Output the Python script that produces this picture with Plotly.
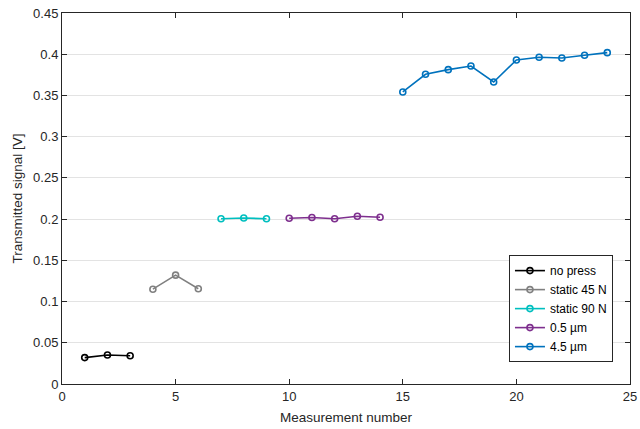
import plotly.graph_objects as go

series_names = ["no press", "static 45 N", "static 90 N", "0.5 µm", "4.5 µm"]
series_x = [
    [1, 2, 3],
    [4, 5, 6],
    [7, 8, 9],
    [10, 11, 12, 13, 14],
    [15, 16, 17, 18, 19, 20, 21, 22, 23, 24],
]
series_y = [
    [0.032, 0.0352, 0.0343],
    [0.115, 0.132, 0.1156],
    [0.2005, 0.2013, 0.2005],
    [0.201, 0.202, 0.2005, 0.2034, 0.2022],
    [0.3542, 0.3757, 0.3813, 0.3857, 0.3663, 0.393, 0.3963, 0.3954, 0.3987, 0.4019],
]
series_colors = ["#000000", "#808080", "#00BFBF", "#7E2F8E", "#0072BD"]

x_ticks = [0, 5, 10, 15, 20, 25]
y_ticks = [0, 0.05, 0.1, 0.15, 0.2, 0.25, 0.3, 0.35, 0.4, 0.45]
y_ticklabels = ["0", "0.05", "0.1", "0.15", "0.2", "0.25", "0.3", "0.35", "0.4", "0.45"]

fig = go.Figure()
for name, xs, ys, c in zip(series_names, series_x, series_y, series_colors):
    fig.add_trace(go.Scatter(
        x=xs, y=ys, name=name, mode="lines+markers",
        line=dict(color=c, width=1.6),
        marker=dict(symbol="circle-open", size=6, color=c, line=dict(width=1.6, color=c)),
    ))

axis_color = "#262626"
fig.update_layout(
    width=640, height=429,
    margin=dict(l=62, r=10, t=13, b=45, autoexpand=False),
    paper_bgcolor="white", plot_bgcolor="white",
    font=dict(family="Liberation Sans, Arial, sans-serif", size=13, color=axis_color),
    showlegend=True,
    legend=dict(
        x=0.970, y=0.059, xanchor="right", yanchor="bottom",
        bgcolor="white", bordercolor=axis_color, borderwidth=1,
        font=dict(size=12, color="black"),
        tracegroupgap=0, itemwidth=30,
    ),
    xaxis=dict(
        range=[0, 25], tickvals=x_ticks, ticks="inside", ticklen=5,
        tickcolor=axis_color, showline=True, linecolor=axis_color, linewidth=1,
        mirror="ticks", showgrid=False, zeroline=False, automargin=False,
        title=dict(text="Measurement number", standoff=9, font=dict(size=13.5)),
    ),
    yaxis=dict(
        range=[0, 0.45], tickvals=y_ticks, ticktext=y_ticklabels, ticks="inside", ticklen=5,
        tickcolor=axis_color, showline=True, linecolor=axis_color, linewidth=1,
        mirror="ticks", showgrid=True, gridcolor="#E3E3E3", gridwidth=1, zeroline=False,
        automargin=False,
        title=dict(text="Transmitted signal [V]", standoff=7, font=dict(size=13.5)),
    ),
)

fig.write_html(
    "out.html",
    config={"displayModeBar": False},
    post_script="document.body.style.margin='0';document.body.style.overflow='hidden';",
)
